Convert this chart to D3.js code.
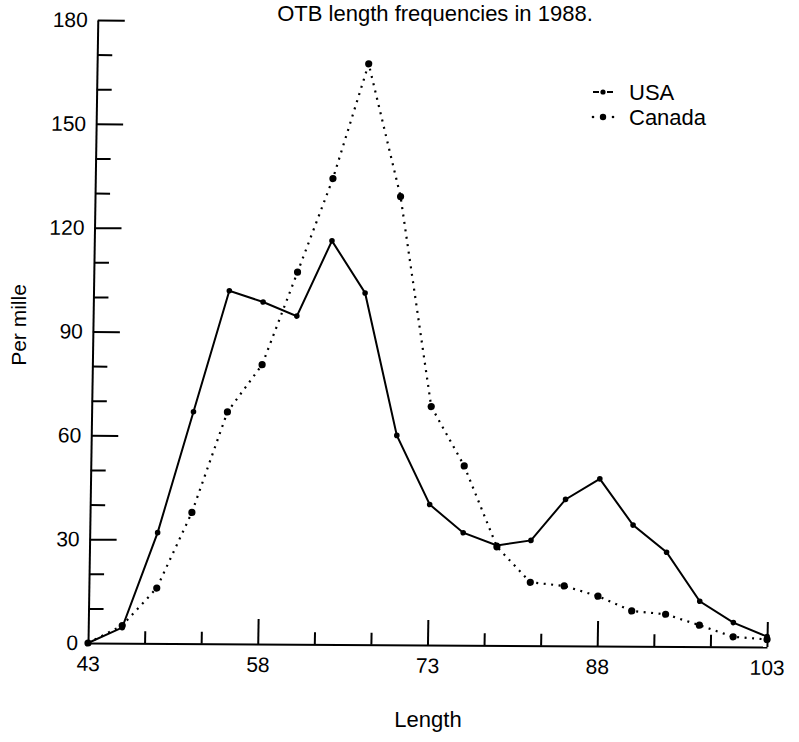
<!DOCTYPE html>
<html>
<head>
<meta charset="utf-8">
<script src="https://cdn.jsdelivr.net/npm/d3@7"></script>
<style>
  body { margin: 0; background: #fff; }
  svg { display: block; font-family: "Liberation Sans", Arial, sans-serif; }
</style>
</head>
<body>
<svg id="chart" width="799" height="742"></svg>
<script>
// OTB length frequencies in 1988 (per mille)
const lengths = [43, 46, 49, 52, 55, 58, 61, 64, 67, 70, 73, 76, 79, 82, 85, 88, 91, 94, 97, 100, 103];
const usa = [0, 4.5, 32, 67, 102, 98.8, 94.8, 116.6, 101.6, 60.5, 40.6, 32.5, 28.9, 30.4, 42.3, 48.3, 35, 27.2, 13.1, 7, 3];
const canada = [0, 5.1, 16, 37.9, 67, 80.7, 107.5, 134.6, 167.8, 129.5, 68.9, 51.8, 28.5, 18.3, 17.3, 14.4, 10.2, 9.3, 6.2, 2.9, 2.2];

const xMajor = [43, 58, 73, 88, 103];
const xMinor = [48, 53, 63, 68, 78, 83, 93, 98];
const yMajor = [0, 30, 60, 90, 120, 150, 180];
const yMinor = [10, 20, 40, 50, 70, 80, 100, 110, 130, 140, 160, 170];

const svg = d3.select("#chart");

const x = d3.scaleLinear().domain([43, 103]).range([88, 767]);
const y = d3.scaleLinear().domain([0, 180]).range([643, 20]);

// the scanned page is a little crooked, so lean the plot the same way
const plot = svg.append("g")
  .attr("transform", "translate(88,643) skewX(-0.9) skewY(0.34) translate(-88,-643)");

// x axis: ticks point up into the plot
plot.append("g")
  .attr("transform", `translate(0,${y(0)})`)
  .call(d3.axisBottom(x).tickValues(xMinor).tickSize(-12).tickFormat(""))
  .call(g => g.select(".domain").remove());

plot.append("g")
  .attr("transform", `translate(0,${y(0)})`)
  .call(d3.axisBottom(x).tickValues(xMajor).tickSize(-25).tickSizeOuter(0).tickPadding(13))
  .call(g => g.selectAll(".tick").filter(d => d === 43).select("line").remove());

// y axis: ticks point right
plot.append("g")
  .attr("transform", `translate(${x(43)},0)`)
  .call(d3.axisLeft(y).tickValues(yMinor).tickSize(-15).tickFormat(""))
  .call(g => g.select(".domain").remove());

plot.append("g")
  .attr("transform", `translate(${x(43)},0)`)
  .call(d3.axisLeft(y).tickValues(yMajor).tickSize(-27).tickSizeOuter(0).tickPadding(10))
  .call(g => g.selectAll(".tick").filter(d => d === 0).select("line").remove());

plot.selectAll(".domain, .tick line")
  .attr("stroke", "#000")
  .attr("stroke-width", 2);
plot.selectAll(".tick text")
  .attr("fill", "#000")
  .attr("font-size", 21)
  .attr("font-family", "Liberation Sans, Arial, sans-serif");

const line = d3.line()
  .x((d, i) => x(lengths[i]))
  .y(d => y(d));

// USA: solid line, small dots
plot.append("path")
  .datum(usa)
  .attr("fill", "none")
  .attr("stroke", "#000")
  .attr("stroke-width", 2)
  .attr("d", line);

plot.append("g")
  .selectAll("circle")
  .data(usa)
  .join("circle")
  .attr("cx", (d, i) => x(lengths[i]))
  .attr("cy", d => y(d))
  .attr("r", 2.8)
  .attr("fill", "#000");

// Canada: dotted line, bigger dots
plot.append("path")
  .datum(canada)
  .attr("fill", "none")
  .attr("stroke", "#000")
  .attr("stroke-width", 2.2)
  .attr("stroke-dasharray", "2 5.5")
  .attr("d", line);

plot.append("g")
  .selectAll("circle")
  .data(canada)
  .join("circle")
  .attr("cx", (d, i) => x(lengths[i]))
  .attr("cy", d => y(d))
  .attr("r", 3.6)
  .attr("fill", "#000");

// legend
const legend = svg.append("g").attr("transform", "translate(593,0)");

const usaKey = legend.append("g").attr("transform", "translate(0,92)");
usaKey.append("line").attr("x1", 0).attr("x2", 20)
  .attr("stroke", "#000").attr("stroke-width", 1.8).attr("stroke-dasharray", "6 8");
usaKey.append("circle").attr("cx", 10).attr("r", 2.6).attr("fill", "#000");
usaKey.append("text").attr("x", 36).attr("y", 8).attr("font-size", 22).text("USA");

const canKey = legend.append("g").attr("transform", "translate(0,117)");
canKey.append("circle").attr("cx", 0).attr("r", 1.3).attr("fill", "#000");
canKey.append("circle").attr("cx", 10).attr("r", 3.2).attr("fill", "#000");
canKey.append("circle").attr("cx", 20).attr("r", 1.3).attr("fill", "#000");
canKey.append("text").attr("x", 36).attr("y", 8).attr("font-size", 22).text("Canada");

// titles
svg.append("text")
  .attr("x", 435).attr("y", 21)
  .attr("text-anchor", "middle")
  .attr("font-size", 22)
  .text("OTB length frequencies in 1988.");

svg.append("text")
  .attr("x", 428).attr("y", 727)
  .attr("text-anchor", "middle")
  .attr("font-size", 22)
  .text("Length");

svg.append("text")
  .attr("transform", "translate(26,325) rotate(-90)")
  .attr("text-anchor", "middle")
  .attr("font-size", 21)
  .text("Per mille");
</script>
</body>
</html>
